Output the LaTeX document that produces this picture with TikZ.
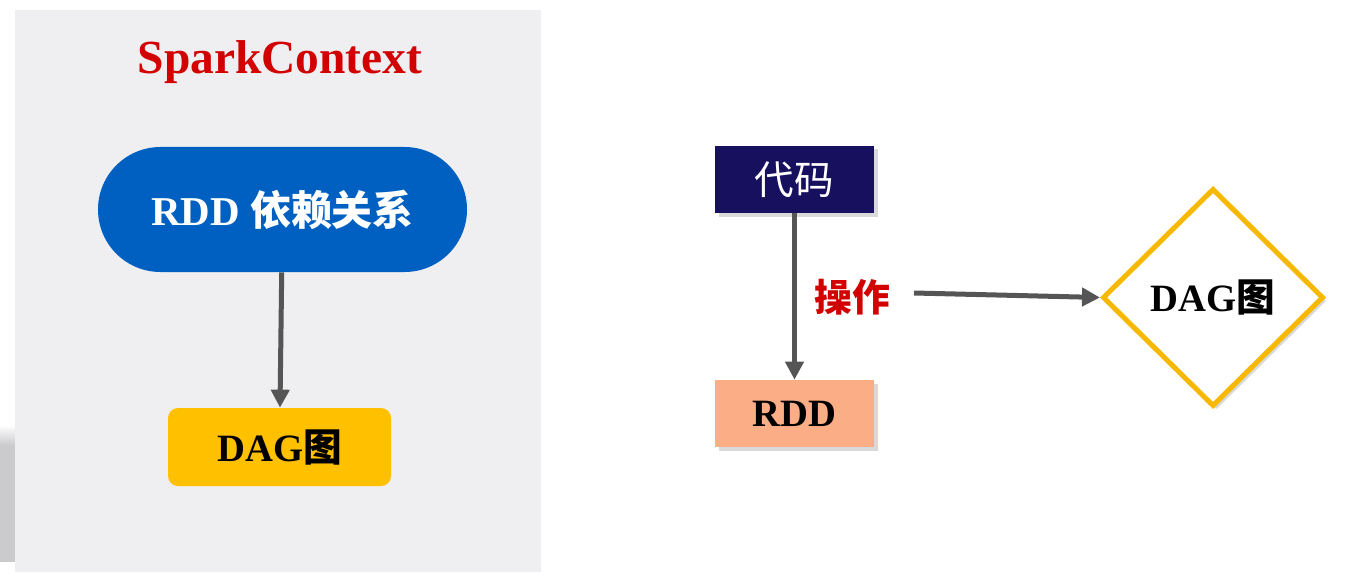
\documentclass[tikz,border=0pt]{standalone}
\usepackage{fontspec}
\setmainfont{Liberation Serif}
\newfontfamily\cjk{Noto Sans CJK SC}
\usetikzlibrary{arrows.meta,shapes.geometric,shadows}
\definecolor{panelgray}{HTML}{EFEEF0}
\definecolor{panelshade}{HTML}{CBCACD}
\definecolor{pillblue}{HTML}{0060C2}
\definecolor{dagorange}{HTML}{FFC000}
\definecolor{codenavy}{HTML}{17105F}
\definecolor{rddsalmon}{HTML}{FBAE85}
\definecolor{titlered}{HTML}{D30000}
\definecolor{arrowgray}{HTML}{555555}
\definecolor{diamondgold}{HTML}{F6B800}
\tikzset{>={Triangle[width=3.6mm,length=3.6mm]}}
\tikzset{
    flow/.style={->,draw=arrowgray,line width=1mm},
    big/.style={font=\fontsize{22}{26}\selectfont\bfseries},
    box/.style={rectangle,inner sep=0pt,minimum width=3.18cm,minimum height=1.34cm},
    softshadow/.style={drop shadow={shadow xshift=0.7mm,shadow yshift=-0.7mm,opacity=0.3}},
}

\begin{document}
\begin{tikzpicture}[x=0.2mm,y=-0.2mm]
    \useasboundingbox (0,0) rectangle (1346,587);
    % left panel
    \fill[top color=white,bottom color=panelshade] (0,425) rectangle (15,445);
    \fill[panelshade] (0,445) rectangle (15,562);
    \fill[panelgray] (15,10) rectangle (541,572);
    \node[titlered,font=\fontsize{27}{32}\selectfont\bfseries] (title) at (280,62) {SparkContext};
    \node[fill=pillblue,text=white,font=\fontsize{23.3}{27}\selectfont\bfseries,inner sep=0pt,
          minimum width=7.38cm,minimum height=2.5cm,rounded corners=1.25cm] (deps) at (282.5,209.5) {RDD {\cjk 依赖关系}};
    \node[fill=dagorange,big,inner sep=0pt,minimum width=4.46cm,minimum height=1.56cm,
          rounded corners=2mm] (dag) at (279.5,447) {DAG{\cjk 图}};
    \draw[flow] (deps) -- (dag);
    % right side
    \node[box,fill=codenavy,text=white,softshadow,font=\fontsize{22.5}{26}\selectfont] (code) at (794.5,179.5) {\cjk 代码};
    \node[box,fill=rddsalmon,softshadow,big] (rdd) at (794.5,413.5) {RDD};
    \node[titlered,font=\fontsize{21.5}{26}\selectfont\bfseries] (op) at (852.5,297) {\cjk 操作};
    \node[diamond,draw=diamondgold,line width=1mm,fill=white,softshadow,inner sep=0pt,
          minimum width=4.42cm,minimum height=4.36cm,big] (graph) at (1213,297.5) {DAG{\cjk 图}};
    \coordinate (opstart) at (914,293);
    \draw[flow] (code) -- (rdd);
    \draw[flow] (opstart) -- (graph.west);
\end{tikzpicture}
\end{document}
